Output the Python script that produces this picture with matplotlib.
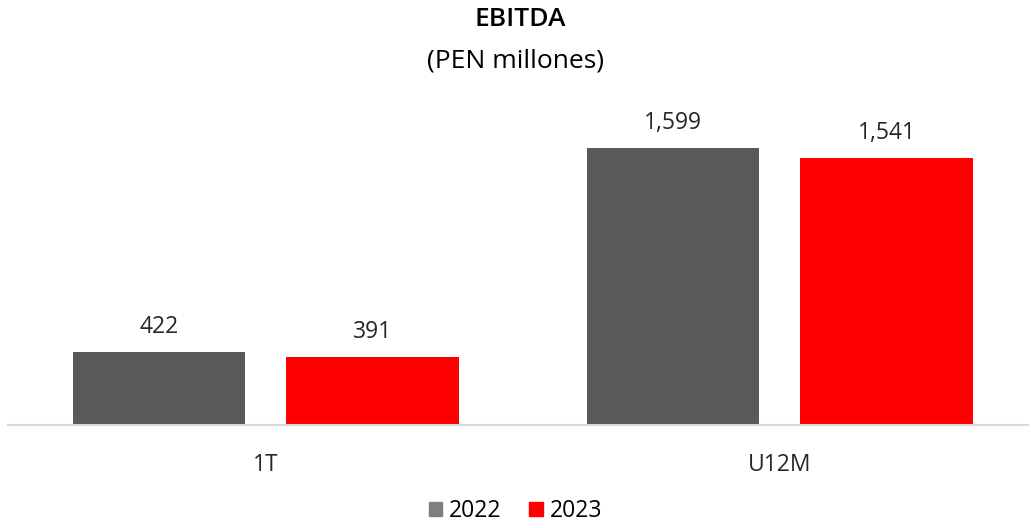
import matplotlib.pyplot as plt
import numpy as np
from matplotlib.patches import Patch

plt.rcParams["font.family"] = ["Open Sans", "DejaVu Sans"]

categories = ["1T", "U12M"]
years = ["2022", "2023"]
values_2022 = [422, 1599]
values_2023 = [391, 1541]

bar_colors = ["#595959", "#ff0000"]
legend_colors = ["#7f7f7f", "#ff0000"]

fig = plt.figure(figsize=(10.31, 5.28), dpi=100)
ax = fig.add_axes([8 / 1031, 103 / 528, 1020 / 1031, 312 / 528])

x = np.arange(len(categories))
width = 0.335
offset = 0.2077

for i, vals in enumerate([values_2022, values_2023]):
    pos = x + (offset if i else -offset)
    ax.bar(pos, vals, width=width, color=bar_colors[i])
    for px, v in zip(pos, vals):
        ax.annotate(f"{v:,}", (px, v), xytext=(0, 13.5), textcoords="offset points",
                    ha="center", va="baseline", fontsize=16.5, color="#262626")

ax.set_xlim(-0.5015, 1.483)
ax.set_ylim(0, 1800)
ax.set_xticks(x)
ax.set_xticklabels(categories, fontsize=16.5, color="#262626")
ax.tick_params(axis="x", length=0, pad=20)
ax.set_yticks([])
for s in ["top", "left", "right"]:
    ax.spines[s].set_visible(False)
ax.spines["bottom"].set_color("#d9d9d9")
ax.spines["bottom"].set_linewidth(1.5)

fig.text(0.505, 1 - 20 / 528, "EBITDA", ha="center", va="center",
         fontsize=19, fontweight="semibold", color="black")
fig.text(0.5, 1 - 61 / 528, "(PEN millones)", ha="center", va="center",
         fontsize=19, color="black")

handles = [Patch(color=c, label=y) for c, y in zip(legend_colors, years)]
fig.legend(handles=handles, loc="lower center", bbox_to_anchor=(0.5, -0.03),
           ncol=2, frameon=False, fontsize=16.5, handlelength=0.6,
           handleheight=0.6, handletextpad=0.3, columnspacing=1.2)

fig.savefig("out.png", dpi=100)
